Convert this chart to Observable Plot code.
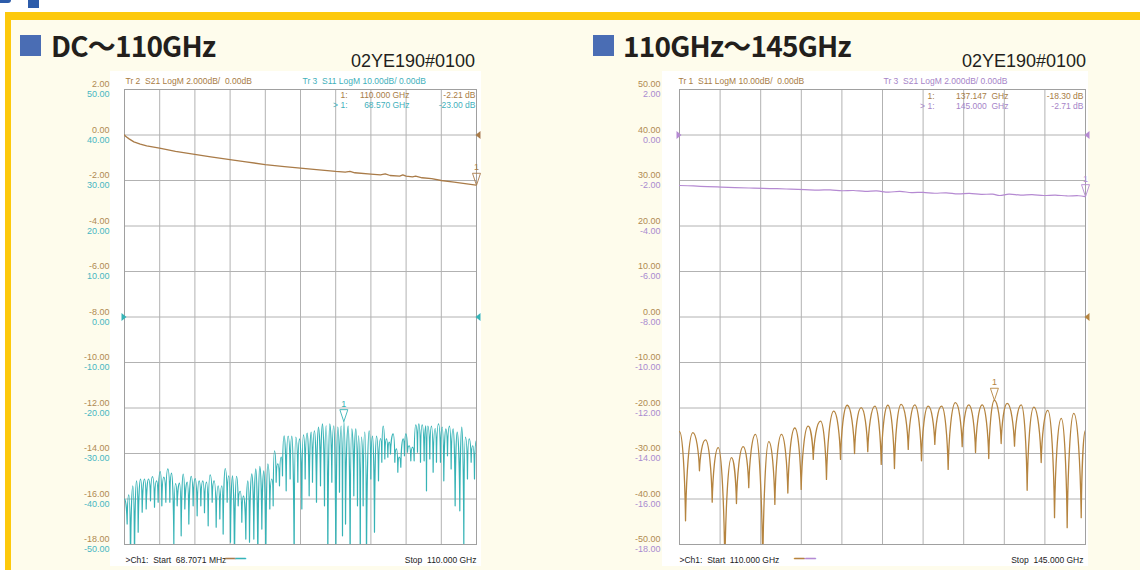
<!DOCTYPE html>
<html><head><meta charset="utf-8">
<script src="https://cdn.jsdelivr.net/npm/d3@7"></script>
<script src="https://cdn.jsdelivr.net/npm/@observablehq/plot@0.6"></script>
<style>
body{margin:0;width:1140px;height:570px;overflow:hidden;background:#fefcec;position:relative;font-family:"Liberation Sans",Arial,sans-serif}
.abs{position:absolute}
.title{font-family:"Noto Sans CJK JP","Noto Sans",sans-serif;font-weight:700;font-size:28px;line-height:1;color:#231f1c;white-space:nowrap;letter-spacing:-0.8px}
.serial{font-family:"Liberation Sans",Arial,sans-serif;font-size:18px;line-height:1;color:#231f1c;white-space:nowrap}
.plot-holder svg{position:absolute;left:0;top:0}
</style></head>
<body>
<div class="abs" style="left:0;top:0;width:1140px;height:12px;background:#fff"></div>
<div class="abs" style="left:0;top:0;width:11px;height:3px;background:#2d5caa;border-radius:0 0 5px 0"></div>
<div class="abs" style="left:28px;top:0;width:11px;height:8px;background:#2d5caa"></div>
<div class="abs" style="left:0;top:12px;width:1140px;height:8px;background:#fdc90c"></div>
<div class="abs" style="left:0;top:12px;width:5px;height:558px;background:#fff"></div>
<div class="abs" style="left:5px;top:12px;width:6px;height:558px;background:#fdc90c"></div>

<div class="abs" style="left:20px;top:35px;width:21px;height:21px;background:#4a6db4"></div>
<div class="abs title" style="left:51px;top:31px">DC〜110GHz</div>
<div class="abs serial" style="right:665px;top:52px">02YE190#0100</div>

<div class="abs" style="left:593px;top:35px;width:21px;height:21px;background:#4a6db4"></div>
<div class="abs title" style="left:623px;top:31px">110GHz〜145GHz</div>
<div class="abs serial" style="right:54px;top:52px">02YE190#0100</div>

<div class="abs" style="left:110px;top:71px;width:371px;height:495px;background:#fff"></div>
<div class="abs" style="left:662px;top:71px;width:426px;height:495px;background:#fff"></div>

<div class="abs plot-holder" id="left" style="left:40px;top:60px;width:450px;height:510px"></div>
<div class="abs plot-holder" id="right" style="left:600px;top:60px;width:500px;height:510px"></div>

<script>
// ---------- data ----------
const leftStart = 0.0687071, leftStop = 110;
const rightStart = 110, rightStop = 145;

const leftS21Ticks = [2, 0, -2, -4, -6, -8, -10, -12, -14, -16, -18];
const leftS11Ticks = [50, 40, 30, 20, 10, 0, -10, -20, -30, -40, -50];
const rightS11Ticks = [50, 40, 30, 20, 10, 0, -10, -20, -30, -40, -50];
const rightS21Ticks = [2, 0, -2, -4, -6, -8, -10, -12, -14, -16, -18];

// DC-110 GHz, S21 (dB)
const leftS21 = [[0.07,0],[0.5,-0.07],[1.5,-0.17],[3,-0.3],[5,-0.4],[7,-0.48],[11,-0.58],[16,-0.72],[22,-0.85],[27,-0.96],[33,-1.08],[38,-1.18],[44,-1.3],[50,-1.39],[55,-1.46],[60,-1.52],[66,-1.6],[69,-1.63],[70.5,-1.6],[72,-1.66],[77,-1.72],[80,-1.75],[81.5,-1.71],[83,-1.78],[86,-1.81],[87,-1.75],[88,-1.81],[90,-1.84],[91,-1.81],[93,-1.88],[96,-1.92],[99,-2.0],[103,-2.07],[107,-2.15],[110,-2.21]];

// DC-110 GHz, S11 (dB), alternating peaks and dips
const leftS11 = [[0.07,-40.0],[0.9,-45.5],[1.42,-39.1],[1.94,-55],[2.67,-37.1],[3.19,-55],[3.82,-36.0],[4.34,-47.3],[5.07,-35.6],[5.59,-42.9],[6.32,-35.6],[6.84,-42.2],[7.56,-35.6],[8.19,-40.4],[8.81,-35.1],[9.44,-41.8],[10.06,-36.0],[10.58,-40.7],[11.21,-34.0],[11.73,-41.5],[12.35,-35.2],[12.98,-40.7],[13.6,-33.4],[14.23,-40.7],[14.75,-34.3],[15.48,-49.9],[16.0,-36.6],[16.52,-41.5],[17.25,-36.5],[17.77,-48.1],[18.39,-34.5],[18.91,-42.2],[19.64,-36.3],[20.16,-45.5],[20.89,-35.0],[21.51,-41.5],[22.14,-35.5],[22.76,-43.7],[23.39,-36.0],[23.91,-41.5],[24.53,-36.0],[25.05,-43.0],[25.68,-36.3],[26.2,-45.9],[26.82,-34.7],[27.45,-40.7],[28.07,-36.0],[28.7,-46.2],[29.32,-37.1],[29.84,-44.4],[30.47,-37.1],[30.88,-47.7],[31.51,-33.3],[32.13,-40.7],[32.65,-34.9],[33.17,-49.5],[33.8,-34.9],[34.42,-55],[35.05,-35.0],[35.57,-41.5],[36.2,-38.3],[36.71,-45.1],[37.23,-39.3],[37.96,-48.8],[38.58,-36.0],[39.11,-49.5],[39.83,-34.5],[40.46,-48.8],[41.08,-33.4],[41.71,-55],[42.33,-32.8],[42.96,-46.6],[43.58,-33.8],[44.2,-55],[44.83,-32.3],[45.45,-42.2],[46.08,-35.6],[46.5,-41.5],[46.91,-29.4],[47.43,-36.3],[47.95,-32.3],[48.47,-37.1],[48.99,-30.8],[49.41,-34.9],[49.93,-26.1],[50.56,-38.2],[51.18,-26.2],[51.8,-35.6],[52.33,-26.2],[53.05,-55],[53.57,-26.4],[54.2,-36.3],[54.72,-26.8],[55.45,-42.2],[55.97,-25.9],[56.49,-35.6],[57.11,-25.5],[57.74,-39.3],[58.36,-25.3],[58.78,-36.3],[59.4,-25.0],[60.03,-40.7],[60.65,-24.2],[61.28,-37.1],[61.9,-23.5],[62.53,-41.5],[63.05,-23.9],[63.57,-55],[64.19,-23.5],[64.82,-36.3],[65.44,-23.9],[66.07,-55],[66.69,-24.2],[67.21,-38.5],[67.73,-24.0],[68.15,-48.1],[68.57,-23.0],[69.1,-45.5],[69.92,-24.0],[70.54,-55],[71.06,-24.6],[71.69,-39.3],[72.31,-24.6],[72.83,-41.5],[73.2,-26.1],[73.7,-55],[74.08,-26.4],[74.6,-41.5],[75.12,-25.3],[75.64,-55],[76.48,-25.0],[77.0,-35.6],[77.52,-26.2],[78.14,-47.3],[78.77,-26.2],[79.39,-36.0],[80.02,-26.7],[80.43,-31.9],[80.85,-24.0],[81.37,-31.2],[81.89,-26.8],[82.31,-30.8],[82.72,-27.5],[83.14,-30.1],[83.97,-25.7],[84.49,-31.9],[85.01,-29.0],[85.43,-34.1],[85.85,-30.8],[86.36,-33.0],[87.09,-26.8],[87.5,-30.5],[87.93,-25.7],[88.45,-29.7],[88.97,-28.3],[89.49,-31.6],[90.01,-28.6],[90.53,-31.6],[91.05,-23.7],[91.57,-29.7],[91.99,-23.5],[92.51,-31.9],[93.03,-23.7],[93.65,-31.6],[94.17,-23.9],[94.38,-38.2],[94.8,-24.0],[95.42,-31.2],[95.94,-24.0],[96.46,-34.1],[97.09,-24.5],[97.5,-31.9],[98.13,-23.5],[98.75,-31.9],[99.27,-24.2],[99.79,-36.0],[100.42,-24.6],[100.94,-30.5],[101.56,-24.0],[102.08,-33.4],[102.71,-24.6],[103.33,-41.5],[103.96,-25.3],[104.79,-42.6],[105.41,-24.2],[106.04,-49.9],[106.56,-26.4],[107.18,-35.6],[107.7,-26.8],[108.33,-31.9],[108.85,-28.3],[109.37,-35.6],[109.89,-27.2],[110,-28.3]];

// 110-145 GHz, S11 (dB)
const rightS11 = [[110.0,-25.2],[110.52,-44.8],[111.15,-25.4],[111.72,-33.8],[112.24,-27.0],[112.82,-40.7],[113.34,-28.7],[113.91,-55],[114.48,-30.9],[114.91,-41.0],[115.49,-28.5],[115.97,-37.5],[116.55,-25.8],[117.18,-55],[117.7,-27.4],[118.22,-41.2],[118.79,-25.8],[119.34,-38.7],[119.94,-24.4],[120.49,-37.9],[121.09,-24.0],[121.53,-31.3],[122.16,-22.9],[122.67,-35.7],[123.3,-20.7],[123.88,-31.3],[124.46,-19.4],[125.09,-30.0],[125.66,-19.9],[126.23,-29.6],[126.84,-19.6],[127.39,-32.4],[127.96,-19.4],[128.53,-33.3],[129.11,-19.2],[129.72,-29.1],[130.28,-19.3],[130.86,-31.6],[131.44,-19.6],[132.01,-28.0],[132.59,-19.6],[133.16,-33.5],[133.79,-18.8],[134.37,-28.5],[134.94,-19.3],[135.52,-29.8],[136.09,-19.3],[136.66,-31.1],[137.147,-18.3],[137.73,-27.8],[138.25,-19.0],[138.88,-28.4],[139.46,-19.3],[139.97,-38.1],[140.54,-19.8],[141.18,-32.0],[141.75,-20.5],[142.33,-44.1],[142.91,-22.3],[143.42,-46.3],[143.99,-21.2],[144.63,-44.1],[145.0,-24.9]];

// 110-145 GHz, S21 (dB)
const rightS21 = [[110,-2.22],[111.2,-2.24],[112.4,-2.27],[113.6,-2.29],[114.8,-2.31],[116,-2.33],[117.2,-2.35],[118.4,-2.36],[119.6,-2.38],[120.8,-2.40],[122,-2.42],[123,-2.41],[124,-2.45],[125,-2.44],[126,-2.48],[127,-2.46],[128,-2.51],[129,-2.48],[130,-2.53],[131,-2.52],[132,-2.56],[133,-2.54],[134,-2.59],[135,-2.57],[136,-2.61],[137,-2.60],[137.6,-2.66],[138.4,-2.60],[139.4,-2.64],[140.4,-2.62],[141.4,-2.66],[142.4,-2.64],[143.4,-2.68],[144.4,-2.67],[145,-2.71]];

const leftMarkers = {s21: [110, -2.21], s11: [68.57, -23.00]};
const rightMarkers = {s11: [137.147, -18.30], s21: [145, -2.71]};

// ---------- styling ----------
const FONT = '"Liberation Sans", Arial, sans-serif';
const GRID = "#b2b2b2", FRAME = "#a0a0a0";
const BROWN_L = "#a97b48", TEAL = "#36b3b6", BROWN_R = "#b5843f", PURPLE = "#b58ad2";
const LBL_BROWN = "#b08a52", LBL_TEAL = "#48b6c2", LBL_PURPLE = "#a98bd0";
const TXT_BROWN = "#a87c45", TXT_TEAL = "#3fb0bb", TXT_PURPLE = "#a684c8";
const fmt = d => d.toFixed(2);

// curve: rounded peaks, sharp dips (log-magnitude ripple look)
function rippleCurve(context) {
  let pts;
  return {
    areaStart() {}, areaEnd() {},
    lineStart() { pts = []; },
    point(x, y) { pts.push([+x, +y]); },
    lineEnd() {
      if (!pts.length) return;
      context.moveTo(pts[0][0], pts[0][1]);
      for (let i = 1; i < pts.length; ++i) {
        const [x0, y0] = pts[i - 1], [x1, y1] = pts[i];
        const dx = x1 - x0;
        if (y1 > y0) context.bezierCurveTo(x0 + dx * 0.5, y0, x1 - dx * 0.1, y1 - (y1 - y0) * 0.5, x1, y1);
        else context.bezierCurveTo(x0 + dx * 0.1, y0 - (y0 - y1) * 0.5, x1 - dx * 0.5, y1, x1, y1);
      }
    }
  };
}
const markerTri = {draw(c) { c.moveTo(-4, -12); c.lineTo(4, -12); c.lineTo(0, 0); c.closePath(); }};
const refRight = {draw(c) { c.moveTo(-2, -4); c.lineTo(3, 0); c.lineTo(-2, 4); c.closePath(); }};
const refLeft = {draw(c) { c.moveTo(2, -4); c.lineTo(-3, 0); c.lineTo(2, 4); c.closePath(); }};

const txt = (s, o) => Plot.text([s], {text: d => d, lineAnchor: "middle", fontSize: 8.5, ...o});
const dash = (o) => Plot.text(["\u2014"], {text: d => d, lineAnchor: "middle", fontSize: 10, strokeWidth: 0.9, frameAnchor: "bottom-left", textAnchor: "start", ...o, stroke: o.fill});

function tenths(a, b) { return d3.range(11).map(i => a + i * (b - a) / 10); }

function makePanel(el, cfg) {
  const common = {
    width: cfg.width, height: 510,
    marginLeft: cfg.mL, marginRight: cfg.mR, marginTop: 29, marginBottom: 26,
    x: {domain: cfg.xDomain, axis: null},
    style: {background: "transparent", fontFamily: FONT, overflow: "visible"}
  };
  const A = cfg.A, B = cfg.B;
  const pA = Plot.plot({
    ...common,
    y: {domain: A.domain, axis: null},
    marks: [
      Plot.gridX(tenths(...cfg.xDomain), {stroke: GRID, strokeOpacity: 1}),
      Plot.gridY(A.ticks, {stroke: GRID, strokeOpacity: 1}),
      Plot.frame({stroke: FRAME}),
      Plot.axisY(A.ticks, {tickSize: 0, tickPadding: cfg.pad, dy: -5, fill: A.label, tickFormat: fmt, fontSize: 9, label: null}),
      ...cfg.texts,
      Plot.line(A.data, {x: d => d[0], y: d => d[1], stroke: A.color, strokeWidth: 1.3, curve: A.curve, clip: true}),
      ...A.refs.map(r => Plot.dot([[r.x, 0]], {x: d => d[0], y: d => d[1], symbol: r.side === "L" ? refRight : refLeft, fill: A.color, stroke: "none", dx: r.dx})),
      Plot.dot([A.marker], {x: d => d[0], y: d => d[1], symbol: markerTri, fill: "none", stroke: A.color, strokeWidth: 0.9}),
      Plot.text([A.marker], {x: d => d[0], y: d => d[1], text: () => "1", dy: -18, fontSize: 9, fill: A.color})
    ]
  });
  const pB = Plot.plot({
    ...common,
    y: {domain: B.domain, axis: null},
    marks: [
      Plot.axisY(B.ticks, {tickSize: 0, tickPadding: cfg.pad, dy: 5, fill: B.label, tickFormat: fmt, fontSize: 9, label: null}),
      Plot.line(B.data, {x: d => d[0], y: d => d[1], stroke: B.color, strokeWidth: 1.2, curve: B.curve, clip: true}),
      ...B.refs.map(r => Plot.dot([[r.x, 0]], {x: d => d[0], y: d => d[1], symbol: r.side === "L" ? refRight : refLeft, fill: B.color, stroke: "none", dx: r.dx})),
      Plot.dot([B.marker], {x: d => d[0], y: d => d[1], symbol: markerTri, fill: "none", stroke: B.color, strokeWidth: 0.9}),
      Plot.text([B.marker], {x: d => d[0], y: d => d[1], text: () => "1", dy: -18, fontSize: 9, fill: B.color})
    ]
  });
  el.append(pA, pB);
}

makePanel(document.getElementById("left"), {
  width: 450, mL: 84, mR: 14, pad: 15, xDomain: [leftStart, leftStop],
  A: {data: leftS21, domain: [-18, 2], ticks: leftS21Ticks, color: BROWN_L, label: LBL_BROWN, curve: "linear",
      refs: [{x: leftStop, side: "R", dx: 2}], marker: leftMarkers.s21},
  B: {data: leftS11, domain: [-50, 50], ticks: leftS11Ticks, color: TEAL, label: LBL_TEAL, curve: rippleCurve,
      refs: [{x: leftStart, side: "L", dx: -1}, {x: leftStop, side: "R", dx: 2}], marker: leftMarkers.s11},
  texts: [
    txt("Tr 2\u00a0 S21 LogM 2.000dB/\u00a0 0.00dB", {frameAnchor: "top-left", dx: 1, dy: -8, textAnchor: "start", fill: TXT_BROWN}),
    txt("Tr 3\u00a0 S11 LogM 10.00dB/ 0.00dB", {frameAnchor: "top-left", dx: 178, dy: -8, textAnchor: "start", fill: TXT_TEAL}),
    txt("1:", {frameAnchor: "top-right", dx: -129, dy: 6, textAnchor: "end", fill: TXT_BROWN}),
    txt("110.000 GHz", {frameAnchor: "top-right", dx: -67, dy: 6, textAnchor: "end", fill: TXT_BROWN}),
    txt("-2.21 dB", {frameAnchor: "top-right", dx: -1, dy: 6, textAnchor: "end", fill: TXT_BROWN}),
    txt("> 1:", {frameAnchor: "top-right", dx: -129, dy: 16, textAnchor: "end", fill: TXT_TEAL}),
    txt("68.570 GHz", {frameAnchor: "top-right", dx: -67, dy: 16, textAnchor: "end", fill: TXT_TEAL}),
    txt("-23.00 dB", {frameAnchor: "top-right", dx: -1, dy: 16, textAnchor: "end", fill: TXT_TEAL}),
    txt(">Ch1:\u00a0 Start\u00a0 68.7071 MHz", {frameAnchor: "bottom-left", dx: 1, dy: 16, textAnchor: "start", fill: "#222"}),
    dash({dx: 101, dy: 13, fill: BROWN_L}),
    dash({dx: 111, dy: 13, fill: TEAL}),
    txt("Stop\u00a0 110.000 GHz", {frameAnchor: "bottom-right", dx: 0, dy: 16, textAnchor: "end", fill: "#222"})
  ]
});

makePanel(document.getElementById("right"), {
  width: 500, mL: 79, mR: 15, pad: 19, xDomain: [rightStart, rightStop],
  A: {data: rightS11, domain: [-50, 50], ticks: rightS11Ticks, color: BROWN_R, label: LBL_BROWN, curve: rippleCurve,
      refs: [{x: rightStop, side: "R", dx: 2}], marker: rightMarkers.s11},
  B: {data: rightS21, domain: [-18, 2], ticks: rightS21Ticks, color: PURPLE, label: LBL_PURPLE, curve: "catmull-rom",
      refs: [{x: rightStart, side: "L", dx: -1}, {x: rightStop, side: "R", dx: 2}], marker: rightMarkers.s21},
  texts: [
    txt("Tr 1\u00a0 S11 LogM 10.00dB/\u00a0 0.00dB", {frameAnchor: "top-left", dx: -1, dy: -8, textAnchor: "start", fill: TXT_BROWN}),
    txt("Tr 3\u00a0 S21 LogM 2.000dB/ 0.00dB", {frameAnchor: "top-left", dx: 204, dy: -8, textAnchor: "start", fill: TXT_PURPLE}),
    txt("1:", {frameAnchor: "top-right", dx: -151, dy: 7, textAnchor: "end", fill: TXT_BROWN}),
    txt("137.147\u00a0 GHz", {frameAnchor: "top-right", dx: -77, dy: 7, textAnchor: "end", fill: TXT_BROWN}),
    txt("-18.30 dB", {frameAnchor: "top-right", dx: -2, dy: 7, textAnchor: "end", fill: TXT_BROWN}),
    txt("> 1:", {frameAnchor: "top-right", dx: -151, dy: 17, textAnchor: "end", fill: TXT_PURPLE}),
    txt("145.000\u00a0 GHz", {frameAnchor: "top-right", dx: -77, dy: 17, textAnchor: "end", fill: TXT_PURPLE}),
    txt("-2.71 dB", {frameAnchor: "top-right", dx: -2, dy: 17, textAnchor: "end", fill: TXT_PURPLE}),
    txt(">Ch1:\u00a0 Start\u00a0 110.000 GHz", {frameAnchor: "bottom-left", dx: 0, dy: 16, textAnchor: "start", fill: "#222"}),
    dash({dx: 115, dy: 13, fill: BROWN_R}),
    dash({dx: 126, dy: 13, fill: PURPLE}),
    txt("Stop\u00a0 145.000 GHz", {frameAnchor: "bottom-right", dx: -2, dy: 16, textAnchor: "end", fill: "#222"})
  ]
});
</script>
</body></html>
